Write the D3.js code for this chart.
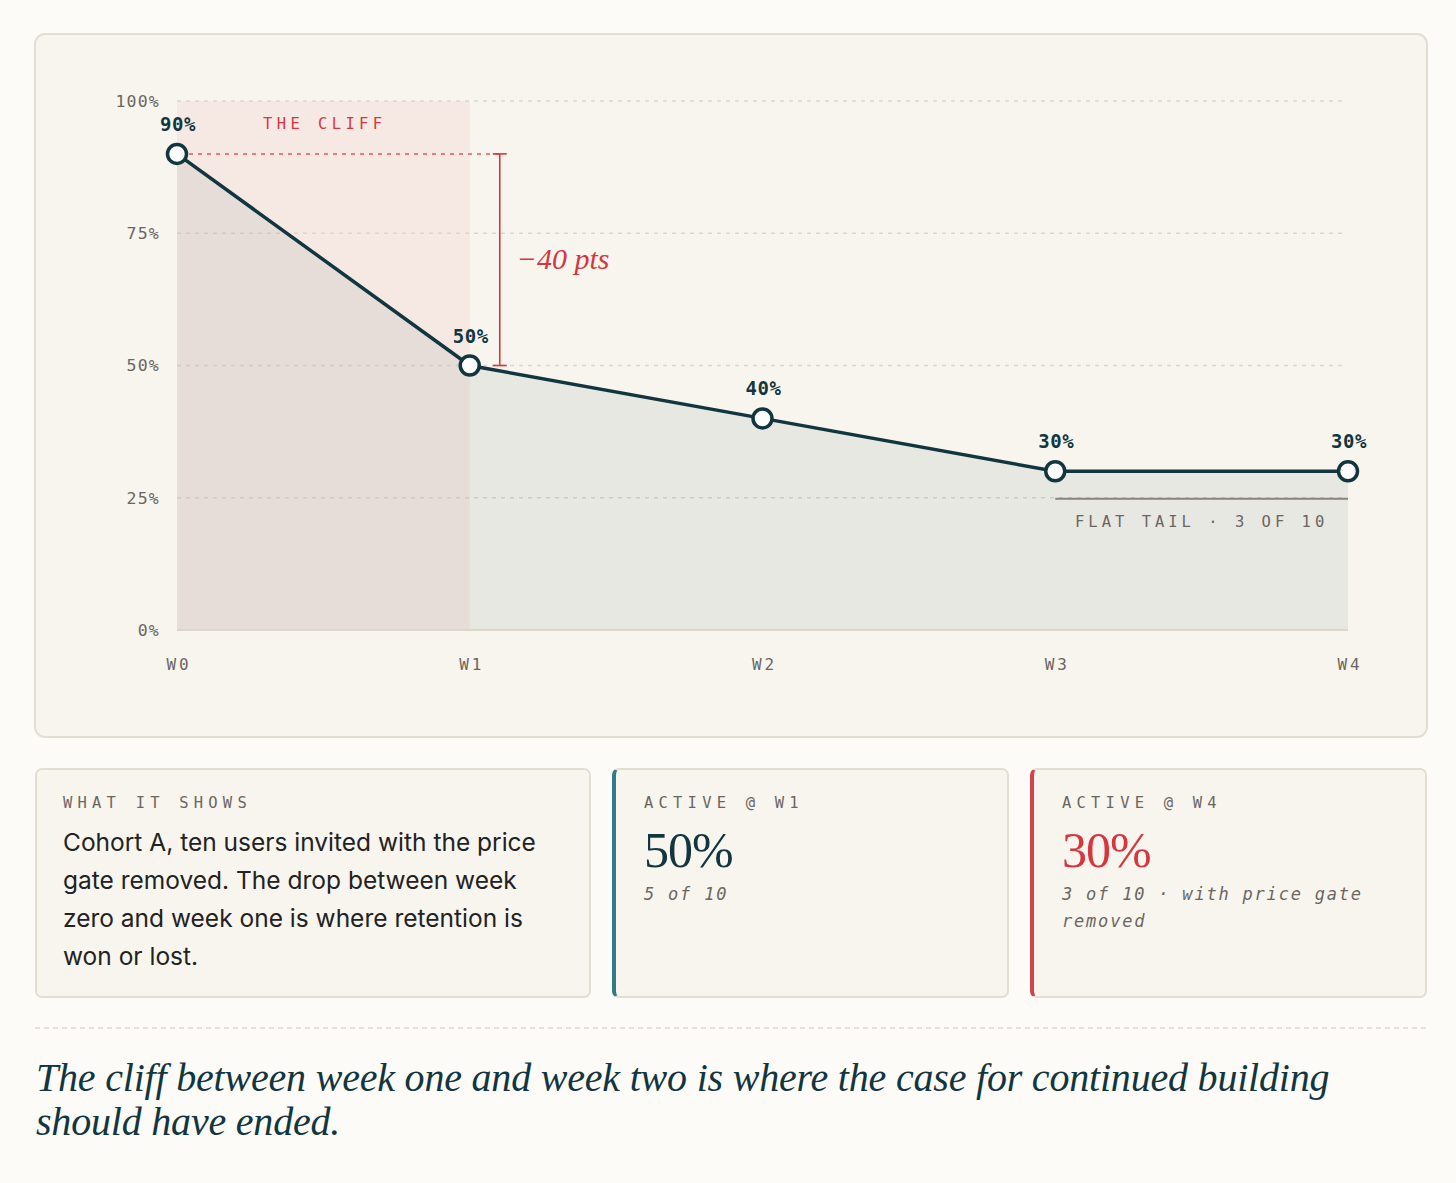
<!DOCTYPE html>
<html>
<head>
<meta charset="utf-8">
<script src="https://cdn.jsdelivr.net/npm/d3@7"></script>
<style>
body{
    margin:0;
    background:#fcfbf8;
    width:1456px;
    height:1183px;
    position:relative;
    overflow:hidden;
}
.card{
    position:absolute;
    top:768px;
    height:230px;
    background:#f8f5ef;
    border:2px solid #e3ded2;
    border-radius:7px;
    box-sizing:border-box;
}
.card .label{
    position:absolute;
    left:26px;
    top:24px;
    font-family:"DejaVu Sans Mono", monospace;
    font-size:15.5px;
    letter-spacing:5.2px;
    color:#6b6661;
}
.card .body{
    position:absolute;
    left:26px;
    top:53px;
    font-family:Inter, sans-serif;
    font-size:24.5px;
    line-height:38px;
    color:#222;
}
.card .big{
    position:absolute;
    left:30px;
    top:51px;
    font-family:"Liberation Serif", serif;
    font-size:50px;
    letter-spacing:-1px;
}
.card .sub{
    position:absolute;
    left:30px;
    top:111px;
    font-family:"DejaVu Sans Mono", monospace;
    font-style:italic;
    font-size:17px;
    line-height:27px;
    letter-spacing:1.8px;
    color:#6b6661;
    width:340px;
}
.caption{
    position:absolute;
    left:36px;
    top:1056px;
    font-family:"Liberation Serif", serif;
    font-style:italic;
    font-size:40px;
    line-height:44px;
    color:#12363f;
    letter-spacing:-0.2px;
}
</style>
</head>
<body>
<svg id="chart"></svg>
<script>
var weeks = ["W0", "W1", "W2", "W3", "W4"];
var retention = [90, 50, 40, 30, 30];
var yTicks = [0, 25, 50, 75, 100];
var cliffWeeks = ["W0", "W1"];
var tailWeeks = ["W3", "W4"];
var tailLevel = 25;

var cardLines = ["Cohort A, ten users invited with the price",
                 "gate removed. The drop between week",
                 "zero and week one is where retention is",
                 "won or lost."];
var captionLines = ["The cliff between week one and week two is where the case for continued building",
                    "should have ended."];

var ink = "#12363f",
    red = "#d6373f",
    grey = "#6b6661";

var svg = d3.select("#chart")
    .attr("width", 1456)
    .attr("height", 745)
    .style("position", "absolute")
    .style("left", 0)
    .style("top", 0);

// chart card
svg.append("rect")
    .attr("x", 35).attr("y", 34)
    .attr("width", 1392).attr("height", 703)
    .attr("rx", 10)
    .style("fill", "#f8f5ef")
    .style("stroke", "#e3ded2")
    .style("stroke-width", 2);

var x = d3.scalePoint().domain(weeks).range([177, 1348]);
var y = d3.scaleLinear().domain([0, 100]).range([630, 101]);

var pts = weeks.map(function(w, i){ return {w: w, v: retention[i]}; });

// cliff band
svg.append("rect")
    .attr("x", x(cliffWeeks[0]))
    .attr("y", y(100))
    .attr("width", x(cliffWeeks[1]) - x(cliffWeeks[0]))
    .attr("height", y(0) - y(100))
    .style("fill", red)
    .style("fill-opacity", 0.06);

// grid
var grid = svg.append("g");
grid.selectAll("line").data(yTicks.filter(function(d){ return d > 0; }))
    .enter().append("line")
    .attr("x1", x(weeks[0])).attr("x2", x(weeks[weeks.length-1]) - 3)
    .attr("y1", function(d){ return y(d); })
    .attr("y2", function(d){ return y(d); })
    .style("stroke", "#ddd6ca")
    .style("stroke-width", 1.5)
    .style("stroke-dasharray", "4 5");

// y axis labels
var yAxis = svg.append("g")
    .attr("transform", "translate(" + (x(weeks[0]) - 17) + ",0)")
    .call(d3.axisLeft(y).tickValues(yTicks).tickSize(0).tickPadding(0)
        .tickFormat(function(d){ return d + "%"; }));
yAxis.select(".domain").remove();
yAxis.selectAll("text")
    .style("font-family", "'DejaVu Sans Mono', monospace")
    .style("font-size", "16.5px")
    .style("letter-spacing", "1.2px")
    .style("fill", grey);

// x axis labels
var xAxis = svg.append("g")
    .attr("transform", "translate(0," + (y(0) + 29) + ")")
    .call(d3.axisBottom(x).tickSize(0).tickPadding(0));
xAxis.select(".domain").remove();
xAxis.selectAll("text")
    .style("font-family", "'DejaVu Sans Mono', monospace")
    .style("font-size", "16px")
    .style("letter-spacing", "3px")
    .style("fill", grey)
    .attr("dx", "1.5px");

// area under line
svg.append("path")
    .datum(pts)
    .attr("d", d3.area()
        .x(function(d){ return x(d.w); })
        .y0(y(0))
        .y1(function(d){ return y(d.v); }))
    .style("fill", ink)
    .style("fill-opacity", 0.065);

// baseline
svg.append("line")
    .attr("x1", x(weeks[0])).attr("x2", x(weeks[weeks.length-1]))
    .attr("y1", y(0)).attr("y2", y(0))
    .style("stroke", "#ddd6ca")
    .style("stroke-width", 2);

// cliff annotation
var v0 = retention[weeks.indexOf(cliffWeeks[0])],
    v1 = retention[weeks.indexOf(cliffWeeks[1])];
var bx = x(cliffWeeks[1]) + 30;

svg.append("text")
    .attr("x", x(cliffWeeks[0]) + 86)
    .attr("y", y(100) + 28)
    .text("THE CLIFF")
    .style("font-family", "'DejaVu Sans Mono', monospace")
    .style("font-size", "15.5px")
    .style("letter-spacing", "4.4px")
    .style("fill", red);

svg.append("line")
    .attr("x1", x(cliffWeeks[0]) + 12).attr("x2", bx)
    .attr("y1", y(v0)).attr("y2", y(v0))
    .style("stroke", red)
    .style("stroke-opacity", 0.8)
    .style("stroke-width", 1.5)
    .style("stroke-dasharray", "4 5");

svg.append("line")
    .attr("x1", bx).attr("x2", bx)
    .attr("y1", y(v0)).attr("y2", y(v1))
    .style("stroke", red).style("stroke-width", 1.6);
[v0, v1].forEach(function(v){
    svg.append("line")
        .attr("x1", bx - 7).attr("x2", bx + 7)
        .attr("y1", y(v)).attr("y2", y(v))
        .style("stroke", red).style("stroke-width", 1.6);
});
svg.append("text")
    .attr("x", bx + 17)
    .attr("y", (y(v0) + y(v1)) / 2 + 9)
    .text("\u221240 pts")
    .style("font-family", "'Liberation Serif', serif")
    .style("font-style", "italic")
    .style("font-size", "30px")
    .style("fill", red);

// flat tail annotation
svg.append("line")
    .attr("x1", x(tailWeeks[0])).attr("x2", x(tailWeeks[1]))
    .attr("y1", y(tailLevel) + 1).attr("y2", y(tailLevel) + 1)
    .style("stroke", "#8a847c")
    .style("stroke-width", 2);
svg.append("text")
    .attr("x", (x(tailWeeks[0]) + x(tailWeeks[1])) / 2)
    .attr("y", y(tailLevel) + 29)
    .attr("text-anchor", "middle")
    .text("FLAT TAIL \u00b7 3 OF 10")
    .style("font-family", "'DejaVu Sans Mono', monospace")
    .style("font-size", "15.5px")
    .style("letter-spacing", "4px")
    .style("fill", grey);

// line + points
svg.append("path")
    .datum(pts)
    .attr("d", d3.line()
        .x(function(d){ return x(d.w); })
        .y(function(d){ return y(d.v); }))
    .style("fill", "none")
    .style("stroke", ink)
    .style("stroke-width", 3.5);

svg.selectAll("circle.pt").data(pts)
    .enter().append("circle")
    .attr("class", "pt")
    .attr("cx", function(d){ return x(d.w); })
    .attr("cy", function(d){ return y(d.v); })
    .attr("r", 9.5)
    .style("fill", "#fff")
    .style("stroke", ink)
    .style("stroke-width", 3.5);

svg.selectAll("text.val").data(pts)
    .enter().append("text")
    .attr("class", "val")
    .attr("x", function(d){ return x(d.w) + 1; })
    .attr("y", function(d){ return y(d.v) - 23; })
    .attr("text-anchor", "middle")
    .text(function(d){ return d.v + "%"; })
    .style("font-family", "'DejaVu Sans Mono', monospace")
    .style("font-size", "19px")
    .style("font-weight", "600")
    .style("letter-spacing", "0.5px")
    .style("fill", ink);

// cards
var body = d3.select("body");

var c1 = body.append("div").attr("class", "card")
    .style("left", "35px").style("width", "556px");
c1.append("div").attr("class", "label").text("WHAT IT SHOWS");
c1.append("div").attr("class", "body")
    .selectAll("div").data(cardLines).enter()
    .append("div").text(function(d){ return d; });

var stats = [
    {left: 612, label: "ACTIVE @ W1", big: retention[1] + "%", sub: "5 of 10", color: "#2f7c86", bigColor: ink},
    {left: 1030, label: "ACTIVE @ W4", big: retention[4] + "%", sub: "3 of 10 \u00b7 with price gate removed", color: "#d4434a", bigColor: red}
];
stats.forEach(function(s){
    var c = body.append("div").attr("class", "card")
        .style("left", s.left + "px").style("width", "397px")
        .style("border-left", "4px solid " + s.color);
    c.append("div").attr("class", "label").style("left", "28px").text(s.label);
    c.append("div").attr("class", "big").style("left", "28px").style("color", s.bigColor).text(s.big);
    c.append("div").attr("class", "sub").style("left", "28px").text(s.sub);
});

// divider + caption
var div = body.append("svg")
    .attr("width", 1456).attr("height", 6)
    .style("position", "absolute").style("left", 0).style("top", "1025px");
div.append("line")
    .attr("x1", 35).attr("x2", 1427)
    .attr("y1", 3).attr("y2", 3)
    .style("stroke", "#ddd9cc")
    .style("stroke-width", 1.5)
    .style("stroke-dasharray", "5 4");

body.append("div").attr("class", "caption")
    .selectAll("div").data(captionLines).enter()
    .append("div").text(function(d){ return d; });
</script>
</body>
</html>
